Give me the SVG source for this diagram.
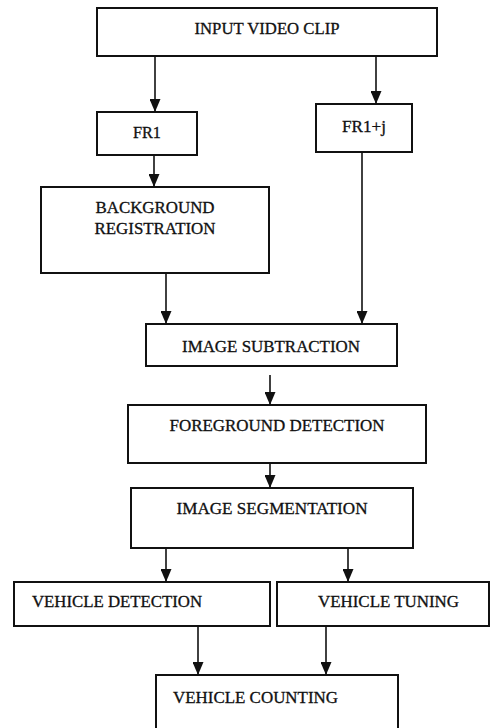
<svg xmlns="http://www.w3.org/2000/svg" width="490" height="728" viewBox="0 0 490 728">
<style>
.box{fill:#fff;stroke:#111;stroke-width:2}
.t{font-family:"Liberation Serif","Times New Roman",serif;font-size:16px;fill:#111;stroke:#111;stroke-width:0.3}
.c{text-anchor:middle}
.ln{stroke:#111;stroke-width:1.6;fill:none;marker-end:url(#ah)}
</style>
<defs>
<marker id="ah" markerUnits="userSpaceOnUse" markerWidth="13" markerHeight="11" refX="13" refY="5.5" orient="auto" viewBox="0 0 13 11">
<path d="M0,0 L13,5.5 L0,11 Z" fill="#111"/>
</marker>
</defs>
<rect width="490" height="728" fill="#fff"/>
<g id="input"><rect class="box" x="97" y="8" width="340" height="48"/><text class="t c" x="267" y="34" textLength="145" lengthAdjust="spacingAndGlyphs">INPUT VIDEO CLIP</text></g>
<g id="fr1"><rect class="box" x="97" y="112" width="100" height="43"/><text class="t c" x="147" y="138" textLength="28" lengthAdjust="spacingAndGlyphs">FR1</text></g>
<g id="fr1j"><rect class="box" x="316" y="104" width="96" height="48"/><text class="t" x="342" y="132" textLength="44" lengthAdjust="spacingAndGlyphs">FR1+j</text></g>
<g id="bg"><rect class="box" x="41" y="187" width="228" height="86"/><text class="t c" x="155" y="213" textLength="119" lengthAdjust="spacingAndGlyphs">BACKGROUND</text><text class="t c" x="155" y="234" textLength="121" lengthAdjust="spacingAndGlyphs">REGISTRATION</text></g>
<g id="sub"><rect class="box" x="146" y="324" width="251" height="42"/><text class="t c" x="271" y="352" textLength="178" lengthAdjust="spacingAndGlyphs">IMAGE SUBTRACTION</text></g>
<g id="fg"><rect class="box" x="128" y="405" width="298" height="58"/><text class="t c" x="277" y="431" textLength="215" lengthAdjust="spacingAndGlyphs">FOREGROUND DETECTION</text></g>
<g id="seg"><rect class="box" x="131" y="488" width="282" height="60"/><text class="t c" x="272" y="514" textLength="191" lengthAdjust="spacingAndGlyphs">IMAGE SEGMENTATION</text></g>
<g id="vd"><rect class="box" x="14" y="582" width="256" height="44"/><text class="t" x="32" y="607" textLength="170" lengthAdjust="spacingAndGlyphs">VEHICLE DETECTION</text></g>
<g id="vt"><rect class="box" x="277" y="582" width="212" height="44"/><text class="t" x="318" y="607" textLength="141" lengthAdjust="spacingAndGlyphs">VEHICLE TUNING</text></g>
<g id="vc"><rect class="box" x="156" y="675" width="242" height="60"/><text class="t" x="173" y="703" textLength="165" lengthAdjust="spacingAndGlyphs">VEHICLE COUNTING</text></g>
<g id="connectors">
<line class="ln" x1="155" y1="56" x2="155" y2="112"/>
<line class="ln" x1="376" y1="56" x2="376" y2="104"/>
<line class="ln" x1="154" y1="155" x2="154" y2="187"/>
<line class="ln" x1="166" y1="273" x2="166" y2="324"/>
<line class="ln" x1="362" y1="152" x2="362" y2="324"/>
<line class="ln" x1="270" y1="375" x2="270" y2="405"/>
<line class="ln" x1="270" y1="463" x2="270" y2="488"/>
<line class="ln" x1="166" y1="548" x2="166" y2="582"/>
<line class="ln" x1="348" y1="548" x2="348" y2="582"/>
<line class="ln" x1="198" y1="626" x2="198" y2="675"/>
<line class="ln" x1="326" y1="626" x2="326" y2="675"/>
</g>
</svg>
